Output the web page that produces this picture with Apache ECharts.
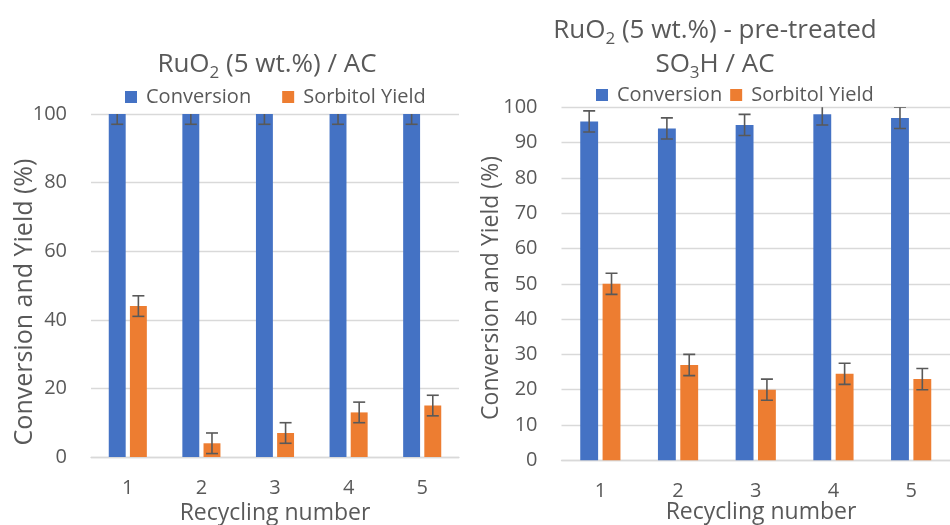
<!DOCTYPE html>
<html>
<head>
<meta charset="utf-8">
<script src="https://cdn.jsdelivr.net/npm/echarts@6/dist/echarts.min.js"></script>
<style>
  html, body { margin: 0; padding: 0; background: #ffffff; }
  #chart { width: 950px; height: 525px; }
</style>
</head>
<body>
<div id="chart"></div>
<script>
// Recycling runs shared by both panels
const categories = ['1', '2', '3', '4', '5'];

// Panel A: RuO2 (5 wt.%) / AC
const acConversion = [100, 100, 100, 100, 100];
const acConversionErr = [3, 3, 3, 3, 3];
const acYield = [44, 4, 7, 13, 15];
const acYieldErr = [3, 3, 3, 3, 3];

// Panel B: RuO2 (5 wt.%) - pre-treated SO3H / AC
const so3hConversion = [96, 94, 95, 98, 97];
const so3hConversionErr = [3, 3, 3, 3, 3];
const so3hYield = [50, 27, 20, 24.5, 23];
const so3hYieldErr = [3, 3, 3, 3, 3];

const FONT = '"Open Sans", "Noto Sans", sans-serif';
const TEXT = '#595959';
const GRID_LINE = '#d9d9d9';
const BLUE = '#4472c4';
const ORANGE = '#ed7d31';
const BAR_RATIO = 0.23;
const GAP_RATIO = 0.25;

// Error bars positioned over the matching bar of a two-bar group
function errorBars(sign) {
  return function (params, api) {
    const x = api.value(0), v = api.value(1), e = api.value(2);
    const band = api.size([1, 0])[0];
    const w = band * BAR_RATIO;
    const off = sign * (w + w * GAP_RATIO) / 2;
    const hi = api.coord([x, v + e]);
    const lo = api.coord([x, v - e]);
    const cx = hi[0] + off;
    const half = 6;
    const style = { stroke: '#595959', lineWidth: 1.6 };
    return {
      type: 'group',
      children: [
        { type: 'line', shape: { x1: cx, y1: hi[1], x2: cx, y2: lo[1] }, style },
        { type: 'line', shape: { x1: cx - half, y1: hi[1], x2: cx + half, y2: hi[1] }, style },
        { type: 'line', shape: { x1: cx - half, y1: lo[1], x2: cx + half, y2: lo[1] }, style }
      ]
    };
  };
}

function errData(vals, errs) {
  return vals.map((v, i) => [i, v, errs[i]]);
}

function xAxisFor(gridIndex) {
  return {
    type: 'category', gridIndex, data: categories,
    axisLine: { lineStyle: { color: GRID_LINE, width: 1.3 } },
    axisTick: { show: false },
    axisLabel: { color: TEXT, fontFamily: FONT, fontSize: 20, margin: 21 }
  };
}

function yAxisFor(gridIndex, interval) {
  return {
    type: 'value', gridIndex, min: 0, max: 100, interval,
    axisLine: { show: false }, axisTick: { show: false },
    splitLine: { lineStyle: { color: GRID_LINE, width: 1.3 } },
    axisLabel: { color: TEXT, fontFamily: FONT, fontSize: 20, margin: 24 }
  };
}

function barSeries(name, idx, data, color) {
  return {
    name, type: 'bar', xAxisIndex: idx, yAxisIndex: idx, data,
    barWidth: (BAR_RATIO * 100) + '%', barGap: (GAP_RATIO * 100) + '%',
    itemStyle: { color }, animation: false
  };
}

function errSeries(idx, vals, errs, sign) {
  return {
    type: 'custom', xAxisIndex: idx, yAxisIndex: idx, clip: true,
    renderItem: errorBars(sign), data: errData(vals, errs),
    z: 5, silent: true, animation: false
  };
}

const titleRich = {
  n: { fontFamily: FONT, fontSize: 26, fontWeight: 'normal', color: TEXT, lineHeight: 34 },
  s: { fontFamily: FONT, fontSize: 17, fontWeight: 'normal', color: TEXT, lineHeight: 16, verticalAlign: 'bottom' }
};

const legendStyle = {
  icon: 'rect', itemWidth: 12, itemHeight: 12, padding: 0,
  textStyle: { color: TEXT, fontFamily: FONT, fontSize: 20, padding: [0, 0, 0, 4] }
};

const chart = echarts.init(document.getElementById('chart'));
chart.setOption({
  backgroundColor: '#ffffff',
  animation: false,
  title: [
    {
      text: '{n|RuO}{s|2}{n| (5 wt.%) / AC}',
      left: 267, top: 48, textAlign: 'center', padding: 0,
      textStyle: { rich: titleRich, fontWeight: 'normal' }
    },
    {
      text: '{n|RuO}{s|2}{n| (5 wt.%) - pre-treated}\n{n|SO}{s|3}{n|H / AC}',
      left: 715, top: 14, textAlign: 'center', padding: 0,
      textStyle: { rich: titleRich, align: 'center', fontWeight: 'normal' }
    }
  ],
  legend: [
    Object.assign({ left: 125, top: 87, itemGap: 31, data: ['Conversion', 'Sorbitol Yield'] }, legendStyle),
    Object.assign({ left: 596, top: 85, itemGap: 8, data: ['Conversion', 'Sorbitol Yield'] }, legendStyle)
  ],
  grid: [
    { left: 91, top: 114, width: 368, height: 343 },
    { left: 561.5, top: 107.3, width: 400, height: 353 }
  ],
  xAxis: [xAxisFor(0), xAxisFor(1)],
  yAxis: [yAxisFor(0, 20), yAxisFor(1, 10)],
  graphic: [
    { type: 'text', x: 25, y: 302, rotation: Math.PI / 2,
      style: { text: 'Conversion and Yield (%)', fill: TEXT, font: '25px ' + FONT, align: 'center', verticalAlign: 'middle' } },
    { type: 'text', x: 491, y: 288, rotation: Math.PI / 2,
      style: { text: 'Conversion and Yield (%)', fill: TEXT, font: '23px ' + FONT, align: 'center', verticalAlign: 'middle' } },
    { type: 'text', x: 275, y: 513,
      style: { text: 'Recycling number', fill: TEXT, font: '23px ' + FONT, align: 'center', verticalAlign: 'middle' } },
    { type: 'text', x: 761, y: 512,
      style: { text: 'Recycling number', fill: TEXT, font: '23px ' + FONT, align: 'center', verticalAlign: 'middle' } }
  ],
  series: [
    barSeries('Conversion', 0, acConversion, BLUE),
    barSeries('Sorbitol Yield', 0, acYield, ORANGE),
    errSeries(0, acConversion, acConversionErr, -1),
    errSeries(0, acYield, acYieldErr, 1),
    barSeries('Conversion', 1, so3hConversion, BLUE),
    barSeries('Sorbitol Yield', 1, so3hYield, ORANGE),
    errSeries(1, so3hConversion, so3hConversionErr, -1),
    errSeries(1, so3hYield, so3hYieldErr, 1)
  ]
});
</script>
</body>
</html>
